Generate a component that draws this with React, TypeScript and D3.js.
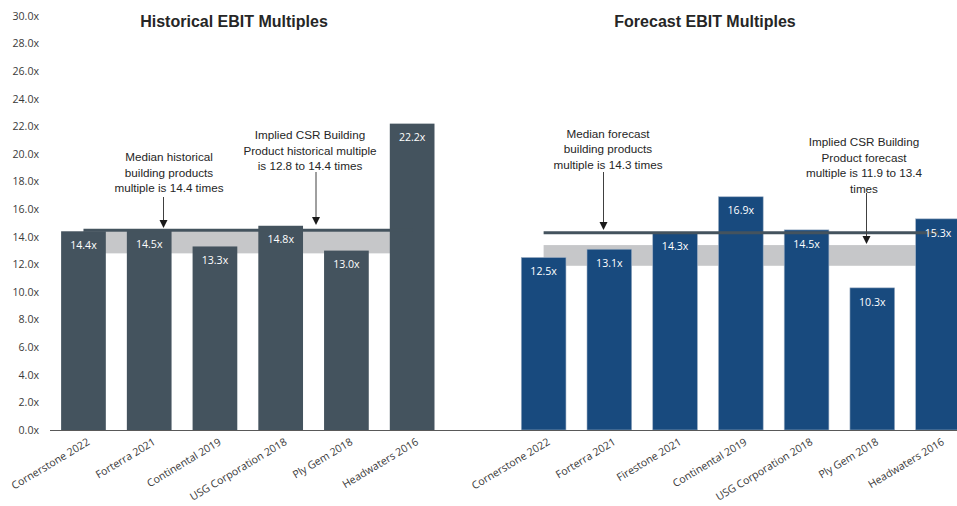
import React from "react";
import * as d3 from "d3";

const histCategories = ["Cornerstone 2022", "Forterra 2021", "Continental 2019", "USG Corporation 2018", "Ply Gem 2018", "Headwaters 2016"];
const histValues = [14.4, 14.5, 13.3, 14.8, 13.0, 22.2];
const fcstCategories = ["Cornerstone 2022", "Forterra 2021", "Firestone 2021", "Continental 2019", "USG Corporation 2018", "Ply Gem 2018", "Headwaters 2016"];
const fcstValues = [12.5, 13.1, 14.3, 16.9, 14.5, 10.3, 15.3];
const yTickValues = [0, 2, 4, 6, 8, 10, 12, 14, 16, 18, 20, 22, 24, 26, 28, 30];
const histMedian = 14.4;
const histRange = [12.8, 14.4];
const fcstMedian = 14.3;
const fcstRange = [11.9, 13.4];

const W = 957;
const H = 506;
const HIST_COLOR = "#44535e";
const FCST_COLOR = "#184a7e";
const BAND_COLOR = "#c6c7c9";
const TEXT = "#262626";

type Slot = { key: string; label: string; value: number | null; group: "h" | "f" | "gap" };

const slots: Slot[] = [
  ...histCategories.map((c, i) => ({ key: "h" + i, label: c, value: histValues[i], group: "h" as const })),
  { key: "gap", label: "", value: null, group: "gap" as const },
  ...fcstCategories.map((c, i) => ({ key: "f" + i, label: c, value: fcstValues[i], group: "f" as const })),
];

export default function App() {
  const x = d3
    .scaleBand<string>()
    .domain(slots.map((s) => s.key))
    .range([50.6, 970.9])
    .paddingInner(0.32)
    .paddingOuter(0.16);
  const y = d3.scaleLinear().domain([0, 30]).range([430, 16]);
  const bw = x.bandwidth();
  const cx = (k: string) => (x(k) as number) + bw / 2;

  const hFirst = cx("h0");
  const hLast = cx("h" + (histCategories.length - 1));
  const fFirst = cx("f0");
  const fLast = cx("f" + (fcstCategories.length - 1));

  const annoFont = { fontFamily: "'Liberation Sans', Arial, sans-serif", fontSize: 11.7, fill: TEXT };
  const annotations = [
    { x: 169, lines: ["Median historical", "building products", "multiple is 14.4 times"], y0: 161, ax: 163.5, ay0: 197, ay1: 228 },
    { x: 310, lines: ["Implied CSR Building", "Product historical multiple", "is 12.8 to 14.4 times"], y0: 139, ax: 316, ay0: 172, ay1: 225 },
    { x: 608, lines: ["Median forecast", "building products", "multiple is 14.3 times"], y0: 137.5, ax: 603.5, ay0: 172, ay1: 230 },
    { x: 864, lines: ["Implied CSR Building", "Product forecast", "multiple is 11.9 to 13.4", "times"], y0: 146, ax: 866.5, ay0: 193, ay1: 244 },
  ];

  return (
    <svg
      width={W}
      height={H}
      style={{ position: "fixed", left: 0, top: 0, background: "#fff" }}
      viewBox={`0 0 ${W} ${H}`}
    >
      <rect x={0} y={0} width={W} height={H} fill="#fff" />
      {/* y tick labels */}
      {yTickValues.map((t) => (
        <text
          key={t}
          x={39}
          y={y(t)}
          dy="0.35em"
          textAnchor="end"
          fontFamily="'Open Sans', sans-serif"
          fontSize={10.6}
          fill="#3a3a3a"
        >
          {t.toFixed(1) + "x"}
        </text>
      ))}

      {/* titles */}
      <text x={234} y={27} textAnchor="middle" fontFamily="'Liberation Sans', Arial, sans-serif" fontWeight="bold" fontSize={16} fill={TEXT}>
        Historical EBIT Multiples
      </text>
      <text x={705} y={27} textAnchor="middle" fontFamily="'Liberation Sans', Arial, sans-serif" fontWeight="bold" fontSize={16} fill={TEXT}>
        Forecast EBIT Multiples
      </text>

      {/* implied ranges */}
      <rect x={hFirst} width={hLast - hFirst} y={y(histRange[1])} height={y(histRange[0]) - y(histRange[1])} fill={BAND_COLOR} />
      <rect x={fFirst} width={fLast - fFirst} y={y(fcstRange[1])} height={y(fcstRange[0]) - y(fcstRange[1])} fill={BAND_COLOR} />

      {/* bars */}
      {slots
        .filter((s) => s.value !== null)
        .map((s) => (
          <rect
            key={s.key}
            x={x(s.key)}
            width={bw}
            y={y(s.value as number)}
            height={y(0) - y(s.value as number)}
            fill={s.group === "h" ? HIST_COLOR : FCST_COLOR}
            stroke={s.group === "f" ? "#9fb0c4" : "none"}
            strokeWidth={0.6}
          />
        ))}

      {/* median lines */}
      <line x1={hFirst} x2={hLast} y1={y(histMedian) - 1} y2={y(histMedian) - 1} stroke={HIST_COLOR} strokeWidth={3} />
      <line x1={fFirst} x2={fLast} y1={y(fcstMedian)} y2={y(fcstMedian)} stroke={HIST_COLOR} strokeWidth={3} />

      {/* value labels */}
      {slots
        .filter((s) => s.value !== null)
        .map((s) => (
          <text
            key={"l" + s.key}
            x={cx(s.key)}
            y={y(s.value as number) + 14}
            dy="0.35em"
            textAnchor="middle"
            fontFamily="'Open Sans', sans-serif"
            fontSize={10.6}
            fill="#ffffff"
          >
            {(s.value as number).toFixed(1) + "x"}
          </text>
        ))}

      {/* baseline */}
      <line x1={50} x2={W} y1={y(0) + 0.5} y2={y(0) + 0.5} stroke="#595959" strokeWidth={1} />

      {/* x labels */}
      {slots
        .filter((s) => s.label)
        .map((s) => {
          const px = cx(s.key) + 7;
          const py = 444;
          return (
            <text
              key={"x" + s.key}
              transform={`translate(${px},${py}) rotate(-31)`}
              textAnchor="end"
              fontFamily="'Open Sans', sans-serif"
              fontSize={10.6}
              fill="#3a3a3a"
            >
              {s.label}
            </text>
          );
        })}

      {/* annotations */}
      {annotations.map((a, i) => (
        <g key={"a" + i}>
          {a.lines.map((ln, j) => (
            <text key={j} x={a.x} y={a.y0 + j * 15.5} textAnchor="middle" {...annoFont}>
              {ln}
            </text>
          ))}
          <line x1={a.ax} x2={a.ax} y1={a.ay0} y2={a.ay1 - 7} stroke="#404040" strokeWidth={1} />
          <path d={`M${a.ax - 4},${a.ay1 - 8} L${a.ax + 4},${a.ay1 - 8} L${a.ax},${a.ay1} Z`} fill="#1a1a1a" />
        </g>
      ))}
    </svg>
  );
}
